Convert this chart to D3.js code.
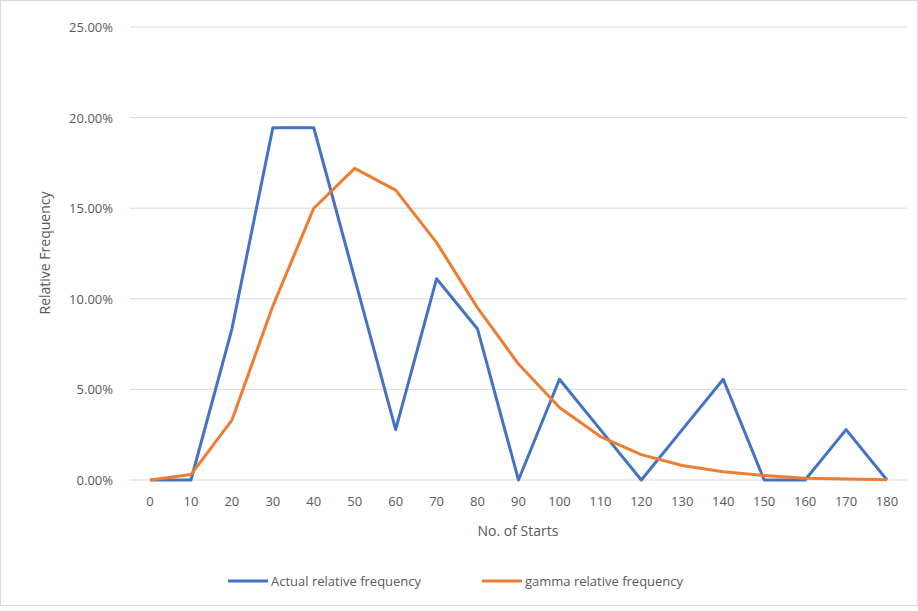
<!DOCTYPE html>
<html><head><meta charset="utf-8">
<script src="https://cdn.jsdelivr.net/npm/d3@7"></script>
<style>body{margin:0;background:#fff;font-family:"Open Sans",sans-serif;}</style>
</head><body><div id="chart"></div>
<script>
const starts = [0,10,20,30,40,50,60,70,80,90,100,110,120,130,140,150,160,170,180]
const actual = [0,0,8.33,19.44,19.44,11.11,2.78,11.11,8.33,0,5.56,2.78,0,2.78,5.56,0,0,2.78,0]
const gamma = [0,0.3,3.3,9.6,15.0,17.2,16.0,13.1,9.5,6.4,4.0,2.4,1.4,0.8,0.45,0.25,0.1,0.05,0.02]
const yTicks = [0,5,10,15,20,25]

const W = 918, H = 611
const svg = d3.select('#chart').append('svg').attr('width', W).attr('height', H)
svg.append('rect').attr('x', 0.5).attr('y', 0.5).attr('width', W - 1).attr('height', H - 6)
    .attr('fill', '#fff').attr('stroke', '#d9d9d9')

const x = d3.scalePoint().domain(starts).range([150, 887])
const y = d3.scaleLinear().domain([0, 25]).range([480, 27])

svg.selectAll('.grid').data(yTicks).enter().append('line')
    .attr('x1', 130).attr('x2', 907)
    .attr('y1', d => y(d)).attr('y2', d => y(d))
    .attr('stroke', '#d9d9d9').attr('stroke-width', 1)

svg.selectAll('.yl').data(yTicks).enter().append('text')
    .attr('x', 113).attr('y', d => y(d) + 5).attr('text-anchor', 'end')
    .attr('font-size', 13).attr('fill', '#595959').text(d => d.toFixed(2) + '%')

svg.selectAll('.xl').data(starts).enter().append('text')
    .attr('x', d => x(d)).attr('y', 506).attr('text-anchor', 'middle')
    .attr('font-size', 13).attr('fill', '#595959').text(d => d)

const line = d3.line().x((d, i) => x(starts[i])).y(d => y(d))
svg.append('path').datum(actual).attr('d', line).attr('fill', 'none')
    .attr('stroke', '#4472C4').attr('stroke-width', 3).attr('stroke-linejoin', 'round')
svg.append('path').datum(gamma).attr('d', line).attr('fill', 'none')
    .attr('stroke', '#ED7D31').attr('stroke-width', 3).attr('stroke-linejoin', 'round')

svg.append('text').attr('x', 518).attr('y', 536).attr('text-anchor', 'middle')
    .attr('font-size', 14).attr('fill', '#595959').text('No. of Starts')
svg.append('text').attr('transform', 'translate(50,253) rotate(-90)').attr('text-anchor', 'middle')
    .attr('font-size', 14).attr('fill', '#595959').text('Relative Frequency')

const legend = [
    { name: 'Actual relative frequency', color: '#4472C4', x: 228 },
    { name: 'gamma relative frequency', color: '#ED7D31', x: 482 }
]
legend.forEach(l => {
    svg.append('line').attr('x1', l.x).attr('x2', l.x + 40).attr('y1', 581).attr('y2', 581)
        .attr('stroke', l.color).attr('stroke-width', 3)
    svg.append('text').attr('x', l.x + 43).attr('y', 586).attr('font-size', 13)
        .attr('fill', '#595959').text(l.name)
})
</script></body></html>
